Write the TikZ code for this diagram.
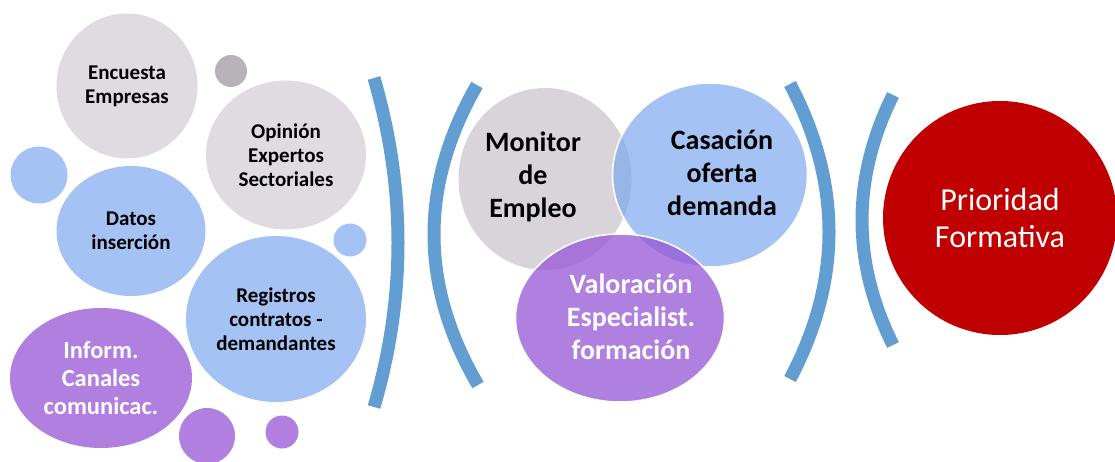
\documentclass[tikz,border=0pt]{standalone}
\usepackage{fontspec}
\setmainfont{Carlito}
\usetikzlibrary{shapes.geometric}
\pgfdeclarelayer{edgelayer}
\pgfdeclarelayer{nodelayer}
\pgfsetlayers{edgelayer,nodelayer,main}
\definecolor{greyfill}{HTML}{DFDBE0}
\definecolor{monitorfill}{HTML}{D9D4DA}
\definecolor{dotfill}{HTML}{B8B2B9}
\definecolor{bluefill}{HTML}{A4C2F4}
\definecolor{casafill}{HTML}{7DA8EF}
\definecolor{purplefill}{HTML}{B07FE0}
\definecolor{valofill}{HTML}{9656D6}
\definecolor{redfill}{HTML}{C00000}
\definecolor{arcblue}{HTML}{629ED2}
\tikzstyle{none}=[inner sep=0pt]
\tikzstyle{greydisc}=[ellipse,fill=greyfill,inner sep=0pt,align=center,font=\fontsize{21}{24}\selectfont\bfseries]
\tikzstyle{bluedisc}=[ellipse,fill=bluefill,inner sep=0pt,align=center,font=\fontsize{21}{24}\selectfont\bfseries]
\tikzstyle{purpledisc}=[ellipse,fill=purplefill,inner sep=0pt,align=center,text=white,font=\fontsize{24.5}{28}\selectfont\bfseries]
\tikzstyle{reddisc}=[ellipse,fill=redfill,inner sep=0pt,align=center,text=white,font=\fontsize{32}{37}\selectfont]
\tikzstyle{dot}=[circle,inner sep=0pt]
\tikzstyle{bigtext}=[inner sep=0pt,align=center,font=\fontsize{28}{33}\selectfont\bfseries]
\tikzstyle{bracket}=[-,draw=arcblue,line width=13pt]

\begin{document}
\begin{tikzpicture}[x=1pt,y=-1pt]
					\useasboundingbox (0,0) rectangle (1115,462);
					\begin{pgfonlayer}{nodelayer}
						\node [style=greydisc, minimum width=141pt, minimum height=145pt] (encuesta) at (127,86) {Encuesta\\Empresas};
						\node [style=dot, fill=dotfill, minimum size=32pt] (greydot) at (231,71) {};
						\node [style=greydisc, minimum width=160pt, minimum height=149pt] (opinion) at (286,155) {Opinión\\Expertos\\Sectoriales};
						\node [style=dot, fill=bluefill, minimum size=57pt] (bluedot) at (39,175) {};
						\node [style=bluedisc, minimum width=149pt, minimum height=130pt] (datos) at (131,231) {Datos\\inserción};
						\node [style=dot, fill=bluefill, minimum size=33pt] (bluedot0) at (350,240) {};
						\node [style=bluedisc, minimum width=180pt, minimum height=166pt] (registros) at (276,319) {Registros\\contratos -\\demandantes};
						\node [style=purpledisc, minimum width=182pt, minimum height=140pt] (inform) at (101,378) {Inform.\\Canales\\comunicac.};
						\node [style=dot, fill=purplefill, minimum size=56pt] (purpledot) at (207,436) {};
						\node [style=dot, fill=purplefill, minimum size=33pt] (purpledot0) at (282,432) {};
						\node [style=dot, ellipse, fill=monitorfill, minimum width=173pt, minimum height=182pt] (monitor) at (545,179) {};
						\node [style=dot, ellipse, fill=casafill, fill opacity=0.7, draw=white, line width=1.5pt, minimum width=195pt, minimum height=184pt] (casacion) at (710,175) {};
						\node [style=dot, ellipse, fill=valofill, fill opacity=0.75, draw=white, line width=1.5pt, minimum width=209pt, minimum height=168pt] (valoracion) at (620,318) {};
						\node [style=bigtext] (monitor0) at (533,177) {Monitor\\de\\Empleo};
						\node [style=bigtext] (casacion0) at (722,173) {Casación\\oferta\\demanda};
						\node [style=bigtext, text=white] (valoracion0) at (631,317) {Valoración\\Especialist.\\formación};
						\node [style=reddisc, minimum width=234pt, minimum height=234pt] (prioridad) at (1000,218) {Prioridad\\Formativa};
						\node [style=none] (bracket) at (374,78) {};
						\node [style=none] (bracket0) at (374,407) {};
						\node [style=none] (bracketc) at (406,188) {};
						\node [style=none] (bracketc0) at (406,298) {};
						\node [style=none] (paren) at (477,85) {};
						\node [style=none] (paren0) at (478,385) {};
						\node [style=none] (parenc) at (419.5,185) {};
						\node [style=none] (parenc0) at (419.5,285) {};
						\node [style=none] (bracketb) at (790,84) {};
						\node [style=none] (bracketb0) at (790,379) {};
						\node [style=none] (bracketbc) at (842,183) {};
						\node [style=none] (bracketbc0) at (842,281) {};
						\node [style=none] (parenb) at (893,95) {};
						\node [style=none] (parenb0) at (893,345) {};
						\node [style=none] (parenbc) at (851.7,178) {};
						\node [style=none] (parenbc0) at (851.7,262) {};
					\end{pgfonlayer}
					\begin{pgfonlayer}{edgelayer}
						\draw [style=bracket] (bracket.center) .. controls (bracketc.center) and (bracketc0.center) .. (bracket0.center);
						\draw [style=bracket] (paren.center) .. controls (parenc.center) and (parenc0.center) .. (paren0.center);
						\draw [style=bracket] (bracketb.center) .. controls (bracketbc.center) and (bracketbc0.center) .. (bracketb0.center);
						\draw [style=bracket] (parenb.center) .. controls (parenbc.center) and (parenbc0.center) .. (parenb0.center);
					\end{pgfonlayer}
				\end{tikzpicture}
\end{document}
